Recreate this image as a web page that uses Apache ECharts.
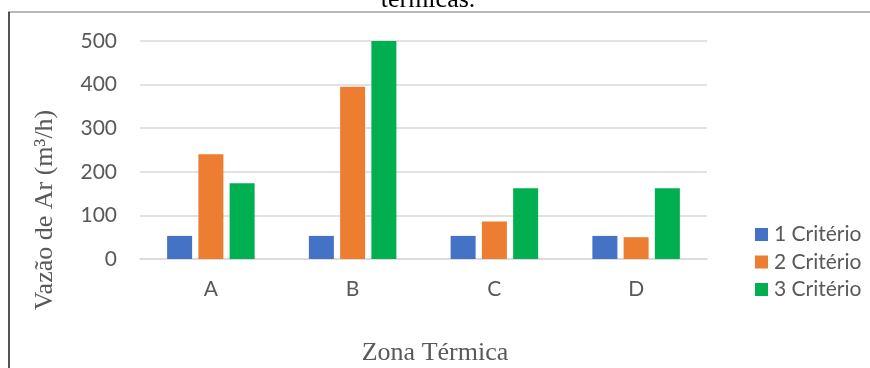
<!DOCTYPE html>
<html>
<head>
<meta charset="utf-8">
<script src="https://cdn.jsdelivr.net/npm/echarts@6/dist/echarts.min.js"></script>
<style>
  html, body { margin: 0; padding: 0; background: #fff; }
  #chart { width: 870px; height: 368px; }
</style>
</head>
<body>
<div id="chart"></div>
<script>
// Zones and airflow per criterion (m³/h)
const zones = ['A', 'B', 'C', 'D'];
const seriesNames = ['1 Critério', '2 Critério', '3 Critério'];
const criterio1 = [53, 53, 53, 53];
const criterio2 = [240, 395, 86, 50];
const criterio3 = [174, 500, 162, 162];
const yTicks = [0, 100, 200, 300, 400, 500];

const colors = ['#4472C4', '#ED7D31', '#00B050'];
const textGray = '#595959';
const sansFont = 'Lato';
const serifFont = '"Liberation Serif", "Times New Roman", serif';

const chart = echarts.init(document.getElementById('chart'), null, { renderer: 'canvas' });

const values = [criterio1, criterio2, criterio3];

chart.setOption({
  animation: false,
  color: colors,
  grid: { left: 140, right: 163, top: 41, bottom: 109, containLabel: false },
  legend: {
    orient: 'vertical',
    left: 755,
    top: 224,
    padding: 0,
    itemWidth: 13,
    itemHeight: 13,
    itemGap: 6.5,
    icon: 'rect',
    textStyle: { color: textGray, fontFamily: sansFont, fontSize: 21, padding: [0, 0, 0, 1] },
    data: seriesNames
  },
  xAxis: {
    type: 'category',
    data: zones,
    axisLine: { show: true, lineStyle: { color: '#d9d9d9', width: 1.5 } },
    axisTick: { show: false },
    axisLabel: { color: textGray, fontFamily: sansFont, fontSize: 21, margin: 20 }
  },
  yAxis: {
    type: 'value',
    min: yTicks[0],
    max: yTicks[yTicks.length - 1],
    interval: 100,
    axisLine: { show: false },
    axisTick: { show: false },
    splitLine: { lineStyle: { color: '#d9d9d9', width: 1.5 } },
    axisLabel: { color: textGray, fontFamily: sansFont, fontSize: 21, margin: 23 }
  },
  series: seriesNames.map((name, i) => ({
    name,
    type: 'bar',
    data: values[i],
    barWidth: 25,
    barGap: '25%',
    itemStyle: { color: colors[i] }
  })),
  graphic: [
    // frame lines
    { type: 'line', shape: { x1: 8, y1: 12, x2: 870, y2: 12 }, style: { stroke: '#a0a0a0', lineWidth: 1.5 } },
    { type: 'line', shape: { x1: 9, y1: 12, x2: 9, y2: 368 }, style: { stroke: '#1a1a1a', lineWidth: 1.5 } },
    // caption text above the frame
    {
      type: 'text', x: 0, y: 0,
      style: { text: 'térmicas.', x: 428, y: -13, textAlign: 'center', fill: '#000', font: '26px ' + serifFont }
    },
    // axis titles
    {
      type: 'text', x: 45, y: 210, rotation: Math.PI / 2,
      style: { text: 'Vazão de Ar (m³/h)', textAlign: 'center', textVerticalAlign: 'middle', fill: textGray, font: '26px ' + serifFont }
    },
    {
      type: 'text', x: 435, y: 353,
      style: { text: 'Zona Térmica', textAlign: 'center', textVerticalAlign: 'middle', fill: textGray, font: '26px ' + serifFont }
    }
  ]
});
</script>
</body>
</html>
